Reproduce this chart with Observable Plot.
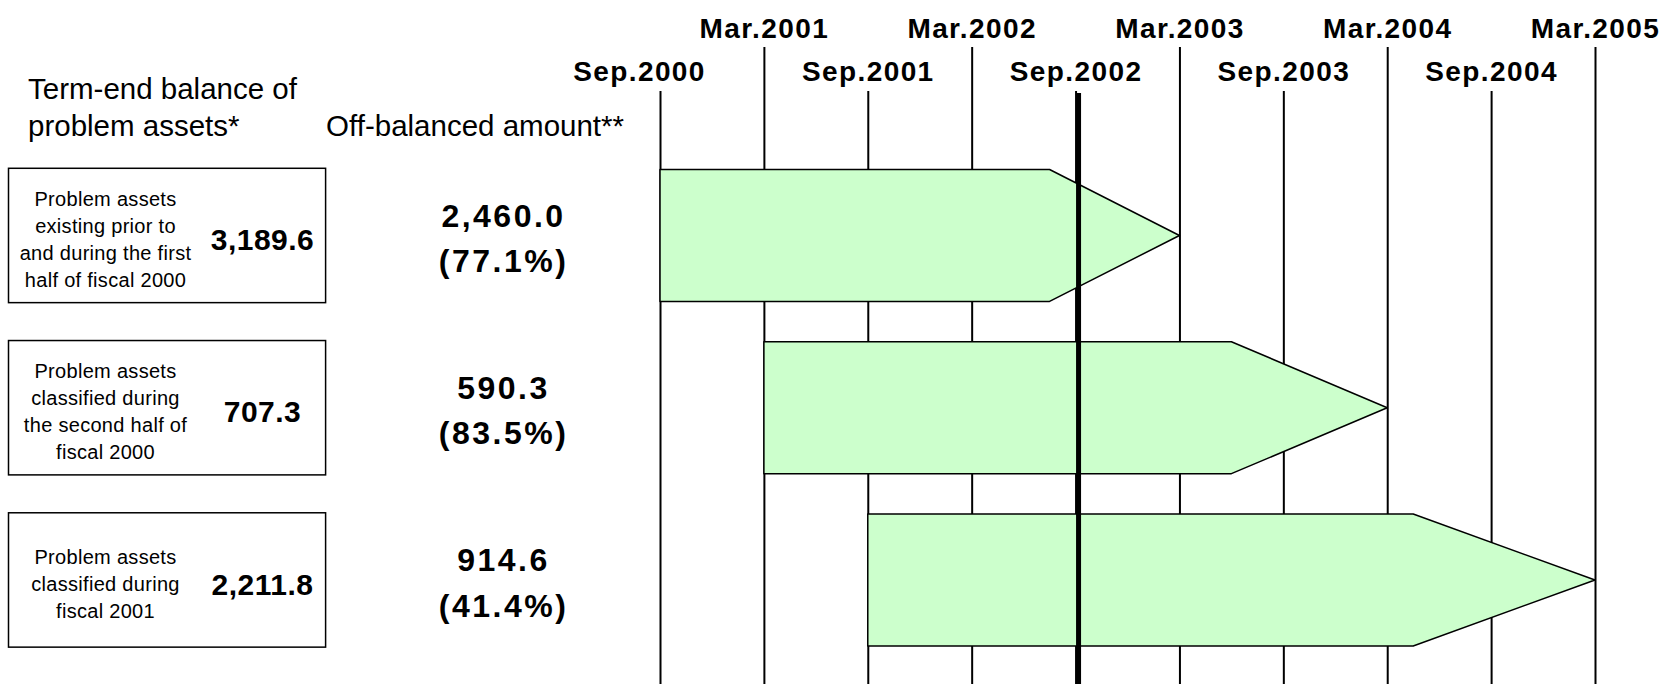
<!DOCTYPE html>
<html>
<head>
<meta charset="utf-8">
<script src="https://cdn.jsdelivr.net/npm/d3@7"></script>
<script src="https://cdn.jsdelivr.net/npm/@observablehq/plot@0.6"></script>
<style>
  html, body { margin: 0; padding: 0; background: #fff; }
  #chart svg { display: block; }
  #chart g[font-size="28"] { letter-spacing: 1.4px; }
  #chart g[font-size="30"] { letter-spacing: 0.5px; }
  #chart g[font-size="32"] { letter-spacing: 2.5px; }
  #chart g[font-size="20"] { letter-spacing: 0.3px; }
</style>
</head>
<body>
<div id="chart"></div>
<script>
// ---- data ----
const periods = ["Sep.2000", "Mar.2001", "Sep.2001", "Mar.2002", "Sep.2002",
                 "Mar.2003", "Sep.2003", "Mar.2004", "Sep.2004", "Mar.2005"];
const categories = [
  "Problem assets\nexisting prior to\nand during the first\nhalf of fiscal 2000",
  "Problem assets\nclassified during\nthe second half of\nfiscal 2000",
  "Problem assets\nclassified during\nfiscal 2001"
];
const termEndBalance = [3189.6, 707.3, 2211.8];
const offBalanced = [2460.0, 590.3, 914.6];
const offBalancedPct = [77.1, 83.5, 41.4];
const startPeriod = ["Sep.2000", "Mar.2001", "Sep.2001"];
const endPeriod = ["Mar.2003", "Mar.2004", "Mar.2005"];
const currentPeriod = "Sep.2002";
const headerBalance = "Term-end balance of\nproblem assets*";
const headerOff = "Off-balanced amount**";

// ---- layout ----
const W = 1674, H = 684;
const mL = 660, mR = 79;
const step = (W - mL - mR) / (periods.length - 1);
const col = px => (px - mL) / step;       // left-panel column positions in x units
const half = 0.383;                       // arrow half-thickness in row units
const boxHalf = 0.39;
const headShare = 0.25;                   // arrow head = 25% of arrow length

const idx = p => periods.indexOf(p);
const rows = categories.map((c, i) => ({
  row: i, cat: c, bal: termEndBalance[i], off: offBalanced[i], pct: offBalancedPct[i],
  s: idx(startPeriod[i]), e: idx(endPeriod[i])
}));
const arrowPts = rows.flatMap(r => {
  const sh = r.s + (1 - headShare) * (r.e - r.s);
  return [
    {row: r.row, x: r.s, y1: r.row - half, y2: r.row + half},
    {row: r.row, x: sh, y1: r.row - half, y2: r.row + half},
    {row: r.row, x: r.e, y1: r.row, y2: r.row}
  ];
});
const fmt = d3.format(",.1f");
const font = "Liberation Sans, Arial, Helvetica, sans-serif";
const pIdx = periods.map((p, i) => i);
const labelStyle = {frameAnchor: "top", lineAnchor: "bottom", fontFamily: font, fontWeight: "bold", fontSize: 28, fill: "#000"};

const chart = Plot.plot({
  width: W, height: H,
  marginLeft: mL, marginRight: mR, marginTop: 0, marginBottom: 0,
  x: {domain: [0, periods.length - 1], axis: null},
  y: {domain: [-1.367, 2.604], reverse: true, axis: null},
  marks: [
    Plot.ruleX(pIdx.filter(i => periods[i].startsWith("Mar")), {x: d => d, insetTop: 47, stroke: "#000", strokeWidth: 2}),
    Plot.ruleX(pIdx.filter(i => periods[i].startsWith("Sep")), {x: d => d, insetTop: 91, stroke: "#000", strokeWidth: 2}),
    Plot.rect(rows, {x1: () => col(8.5), x2: () => col(325.6), y1: d => d.row - boxHalf, y2: d => d.row + boxHalf,
      fill: "#fff", stroke: "#000", strokeWidth: 1.5}),
    Plot.areaY(arrowPts, {x: "x", y1: "y1", y2: "y2", z: "row", fill: "#ccffcc", stroke: "#000", strokeWidth: 1.5, curve: "linear"}),
    Plot.ruleX([idx(currentPeriod)], {x: d => d, dx: 2.5, insetTop: 93, stroke: "#000", strokeWidth: 5}),
    // period labels
    Plot.text(periods, {filter: d => d.startsWith("Mar"), x: (d, i) => i, text: d => d, dy: 37, ...labelStyle}),
    Plot.text(periods, {filter: (d, i) => d.startsWith("Sep") && i > 0, x: (d, i) => i, text: d => d, dy: 80, ...labelStyle}),
    Plot.text(periods, {filter: (d, i) => i === 0, x: (d, i) => i, text: d => d, dy: 80, dx: -21, ...labelStyle}),
    // headers
    Plot.text([headerBalance], {x: () => col(27.5), text: d => d, frameAnchor: "top", lineAnchor: "bottom", dy: 135, lineHeight: 1.25,
      textAnchor: "start", fontFamily: font, fontSize: 29.5, fill: "#000"}),
    Plot.text([headerOff], {x: () => col(325.6), text: d => d, frameAnchor: "top", lineAnchor: "bottom", dy: 135,
      textAnchor: "start", fontFamily: font, fontSize: 29.5, fill: "#000"}),
    // box contents
    Plot.text(rows, {x: () => col(105), y: "row", text: "cat", lineAnchor: "middle", lineHeight: 1.345, dy: 2,
      fontFamily: font, fontSize: 20, fill: "#000"}),
    Plot.text(rows, {x: () => col(262), y: "row", text: d => fmt(d.bal), lineAnchor: "middle", dy: 4.5,
      fontFamily: font, fontWeight: "bold", fontSize: 30, fill: "#000"}),
    // off-balanced amounts
    Plot.text(rows, {x: () => col(503), y: "row", text: d => `${fmt(d.off)}\n(${d.pct.toFixed(1)}%)`, lineAnchor: "middle",
      lineHeight: 1.415, dy: -1, fontFamily: font, fontWeight: "bold", fontSize: 32, fill: "#000"})
  ]
});
document.getElementById("chart").appendChild(chart);
</script>
</body>
</html>
